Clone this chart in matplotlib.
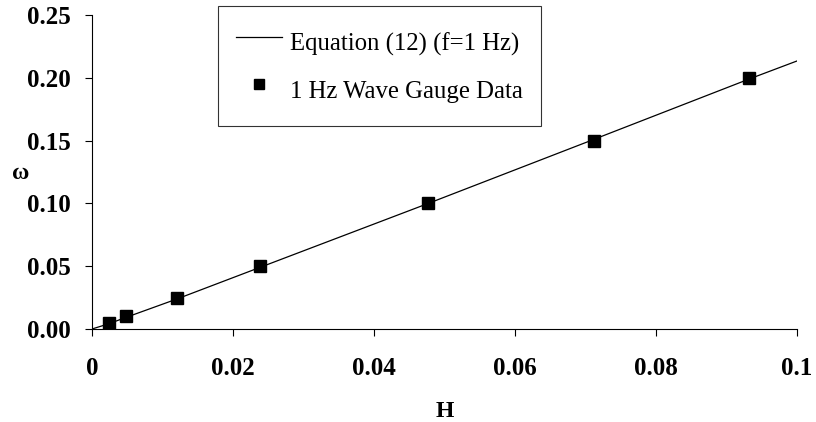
import matplotlib
matplotlib.use("Agg")
import matplotlib.pyplot as plt

# Data
H_data = [0.0024, 0.0048, 0.012, 0.0238, 0.0477, 0.0712, 0.0932]
omega_data = [0.005, 0.010, 0.025, 0.050, 0.100, 0.150, 0.200]

H_eq = [0.0, 0.0024, 0.0048, 0.012, 0.0238, 0.0477, 0.0712, 0.0932, 0.1]
omega_eq = [0.0, 0.0042, 0.0092, 0.0238, 0.0490, 0.1000, 0.1510, 0.1990, 0.2134]

x_ticks = [0, 0.02, 0.04, 0.06, 0.08, 0.1]
x_tick_labels = ["0", "0.02", "0.04", "0.06", "0.08", "0.1"]
y_ticks = [0.00, 0.05, 0.10, 0.15, 0.20, 0.25]
y_tick_labels = ["0.00", "0.05", "0.10", "0.15", "0.20", "0.25"]

plt.rcParams['font.family'] = ['Liberation Serif', 'DejaVu Serif']

fig = plt.figure(figsize=(8.16, 4.22), dpi=100)
ax = fig.add_axes([92/816, 1 - 329/422, (797-92)/816, (329-15)/422])

ax.plot(H_eq, omega_eq, color='black', lw=0.9, label='Equation (12) (f=1 Hz)')
ax.plot(H_data, omega_data, linestyle='none', marker='s', color='black', ms=8,
        label='1 Hz Wave Gauge Data')

ax.set_xlim(0, 0.1)
ax.set_ylim(0, 0.25)
ax.set_xticks(x_ticks)
ax.set_xticklabels(x_tick_labels, fontweight='bold', fontsize=18)
ax.set_yticks(y_ticks)
ax.set_yticklabels(y_tick_labels, fontweight='bold', fontsize=18)
ax.tick_params(direction='out', length=5, width=0.8, colors='black')
ax.tick_params(axis='x', pad=15)
ax.tick_params(axis='y', pad=10)

for s in ['top', 'right']:
    ax.spines[s].set_visible(False)
for s in ['left', 'bottom']:
    ax.spines[s].set_linewidth(0.8)

ax.set_xlabel('H', fontweight='bold', fontsize=17, labelpad=15)
fig.text(12/816, 1 - 173/422, 'ω', fontweight='bold', fontsize=17, ha='left', va='center')

leg = ax.legend(loc='upper left', bbox_to_anchor=((218-92)/705, (329-6)/314),
                frameon=True, fancybox=False, edgecolor='black', fontsize=17.8,
                handlelength=1.85, handletextpad=0.35, labelspacing=0.4,
                handleheight=1.95, borderpad=0.72, borderaxespad=0, markerscale=0.9)
leg.get_frame().set_linewidth(0.8)

fig.savefig('out.png', dpi=100)
